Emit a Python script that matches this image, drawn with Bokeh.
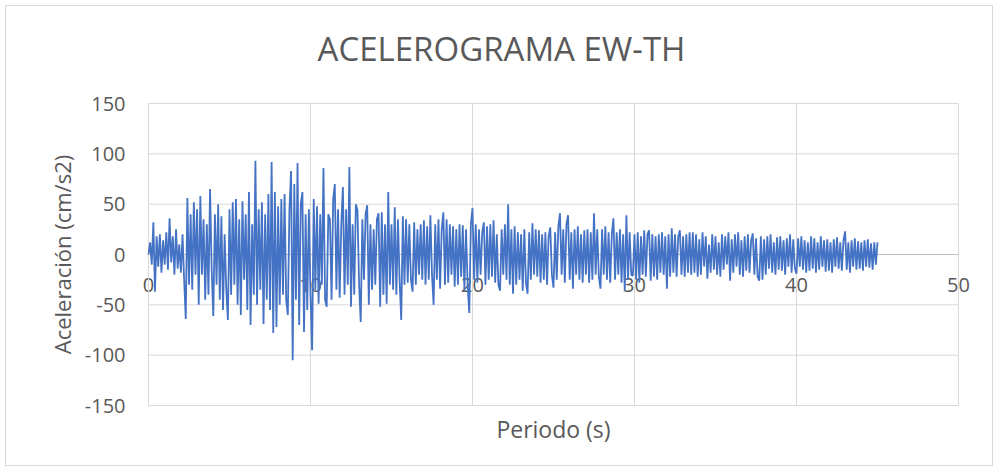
import math
from bokeh.plotting import figure
from bokeh.models import Label
from bokeh.embed import file_html
from bokeh.resources import INLINE

title_text = "ACELEROGRAMA EW-TH"
x_label = "Periodo (s)"
y_label = "Aceleración (cm/s2)"
x_ticks = [0, 10, 20, 30, 40, 50]
y_ticks = [-150, -100, -50, 0, 50, 100, 150]
dt = 0.1  # sampling interval (s) of the typed series below

accel = [
    0, 12, -10, 32, -37, 18, -12, 20, -18, 14,
    -10, 22, -15, 36, -8, 18, -20, 25, -14, 10,
    -18, 20, -25, -64, 56, -30, 40, -35, 52, -20,
    45, -50, 58, -20, 35, -45, 30, -40, 65, -15,
    -61, 40, -30, 50, -45, 38, -55, 20, -35, -65,
    45, -40, 52, -30, 55, -50, 35, -60, 53, -25,
    40, -55, 62, -70, 30, -40, 93, -50, 45, -35,
    52, -69, 40, -45, 60, -55, 92, -78, 62, -72,
    48, -50, 55, -40, 60, -45, -60, 45, 83, -105,
    70, -45, 91, -70, 50, 62, -77, 40, -55, 45,
    -40, -95, 55, -35, 48, -49, 40, -30, 86, -45,
    -52, 40, 35, -45, 55, 70, -35, 45, -43, 30,
    67, -40, 45, -30, 87, -52, 30, -40, 50, 44,
    -30, -67, 35, -25, 40, 49, -50, 30, -35, 25,
    -30, 35, 41, -52, 42, -40, 30, -49, 62, -30,
    30, -35, 47, -40, 35, -25, -65, 38, -30, 35,
    -28, 30, -25, -37, 32, -30, 25, -20, 30, -25,
    34, -30, 28, -25, 39, -20, -50, 30, -25, 35,
    -34, 25, 42, -30, 35, -28, 30, -20, 28, -32,
    25, -30, 30, -22, 29, -35, 25, -30, -58, 30,
    46, -25, 30, -28, 25, -20, 22, 32, -30, 28,
    -25, 30, -22, 34, -28, 20, -30, -36, 25, -20,
    30, -25, 50, -30, 25, -39, 28, -30, 22, -25,
    20, -36, 25, -28, -39, 22, -25, 31, -20, 25,
    -22, 24, -28, 20, -25, 22, -30, 18, 27, -20,
    -33, 22, -25, 28, 41, -20, 25, -28, 30, 39,
    -25, 22, -34, 25, -20, 28, -25, 20, -28, 24,
    -20, 25, -28, 22, -25, 41, -20, 25, -22, -34,
    25, -20, 28, -25, 22, -28, 20, 36, -25, 22,
    -20, 25, -28, 20, -36, 39, -25, 22, -20, -21,
    20, -25, 22, -28, 18, -20, 24, -22, 20, 24,
    -26, 20, -22, 18, -25, 20, -18, 22, -20, 18,
    -34, 20, -22, 26, -18, 20, -22, 18, 24, -20,
    18, -22, 20, -18, 22, -20, 22, -18, 20, -22,
    15, -20, 22, -12, 18, -24, 10, -18, 20, -15,
    18, -20, 12, -22, 20, -15, 18, -10, 22, -26,
    15, -18, 20, -12, 22, -20, 14, -22, 18, -16,
    20, -18, 14, 21, -20, 16, -22, -26, 18, -25,
    15, -20, 18, -14, 20, -18, 12, -20, 17, -15,
    18, -16, 14, -20, 16, -12, 20, -18, 15, -14,
    -19, 16, -12, 18, -15, 14, -18, 12, -16, 18,
    -14, 16, -18, 12, -15, 18, -12, 14, -17, 15,
    -16, 12, -18, 15, -12, 17, -14, 12, -16, 14,
    23, -15, 12, -18, 14, -12, 16, -15, 13, -14,
    12, -16, 14, -12, 15, -13, 11, -15, 12, -10,
    12,
]
time = [round(i * dt, 2) for i in range(len(accel))]

FONT = "Open Sans"
TXT = "#595959"
GRID = "#d9d9d9"

# Canvas 988x461 (inside a 1px border); plot area spans 0..50 s and -150..150 cm/s2
# at canvas pixels x 142..952, y 97..399.  The whole canvas is the frame so that
# nothing is clipped; the ranges below only add the margins around that area.
W, H = 988, 461
L, R, T, B = 142, 952, 97, 399
xs = (x_ticks[-1] - x_ticks[0]) / (R - L)
ys = (y_ticks[-1] - y_ticks[0]) / (B - T)
x_range = (x_ticks[0] - L * xs, x_ticks[-1] + (W - R) * xs)
y_range = (y_ticks[0] - (H - B) * ys, y_ticks[-1] + T * ys)

p = figure(width=W, height=H, x_range=x_range, y_range=y_range,
           output_backend="svg", toolbar_location=None,
           min_border=0)
p.styles = {"margin": "5px 0 0 5px", "border": "1px solid #d9d9d9"}
p.xaxis.visible = False
p.yaxis.visible = False
p.xgrid.visible = False
p.ygrid.visible = False
p.outline_line_color = None
p.background_fill_color = "white"
p.border_fill_color = "white"

# gridlines limited to the plot area
nx, ny = len(x_ticks), len(y_ticks)
p.segment(x0=x_ticks, y0=[y_ticks[0]] * nx, x1=x_ticks, y1=[y_ticks[-1]] * nx,
          line_color=GRID, line_width=1)
p.segment(x0=[x_ticks[0]] * ny, y0=y_ticks, x1=[x_ticks[-1]] * ny, y1=y_ticks,
          line_color=GRID, line_width=1)
# horizontal axis line at zero
p.segment(x0=[x_ticks[0]], y0=[0], x1=[x_ticks[-1]], y1=[0],
          line_color="#bfbfbf", line_width=1)

# title
p.add_layout(Label(x=495, y=H - 42, x_units="screen", y_units="screen",
                   text=title_text, text_font=FONT, text_font_size="33px",
                   text_color=TXT, text_align="center", text_baseline="middle"))

# y tick labels
for v in y_ticks:
    p.add_layout(Label(x=x_ticks[0], y=v, text=str(v), text_font=FONT,
                       text_font_size="20px", text_color=TXT, text_align="right",
                       text_baseline="middle", x_offset=-23))

# y axis title
p.add_layout(Label(x=55, y=(2 * H - T - B) / 2, x_units="screen", y_units="screen",
                   text=y_label, angle=math.pi / 2, text_font=FONT,
                   text_font_size="22px", text_color=TXT, text_align="center",
                   text_baseline="middle"))

# x axis title
p.add_layout(Label(x=(L + R) / 2, y=H - 422, x_units="screen", y_units="screen",
                   text=x_label, text_font=FONT, text_font_size="23px",
                   text_color=TXT, text_align="center", text_baseline="middle"))

# x tick labels sit along the zero line, as in the original (beneath the series)
for v in x_ticks:
    p.add_layout(Label(x=v, y=0, text=str(v), text_font=FONT, text_font_size="20px",
                       text_color=TXT, text_align="center", text_baseline="middle",
                       y_offset=-30, level="underlay"))

p.line(time, accel, line_color="#4472C4", line_width=1.8)

open("out.html", "w").write(file_html(p, INLINE))
